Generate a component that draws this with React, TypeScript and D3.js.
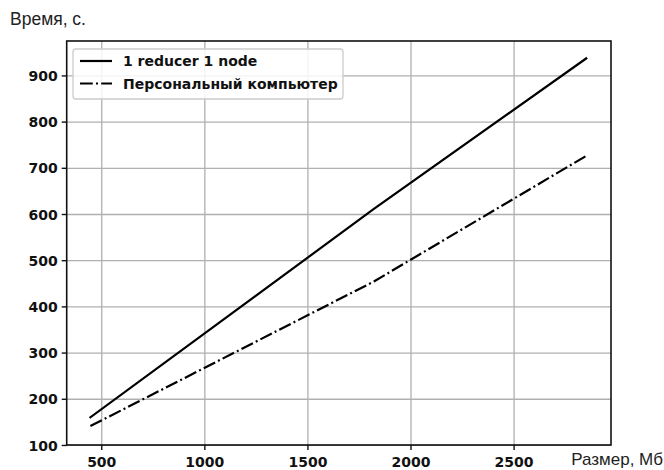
import React from "react";
import * as d3 from "d3";

const sizes = [445, 1820, 2850];
const clusterTimes = [161, 612, 938];
const pcTimes = [142, 455, 727];
const seriesNames = ["1 reducer 1 node", "Персональный компьютер"];
const xTicks = [500, 1000, 1500, 2000, 2500];
const yTicks = [100, 200, 300, 400, 500, 600, 700, 800, 900];

const W = 664;
const H = 470;
const left = 66.7, right = 611, top = 41, bottom = 445;

export default function App() {
  const x = d3.scaleLinear().domain([330, 2970]).range([left, right]);
  const y = d3.scaleLinear().domain([101, 975.6]).range([bottom, top]);
  const line = d3
    .line<[number, number]>()
    .x((d) => x(d[0]))
    .y((d) => y(d[1]));
  const d1 = line(sizes.map((s, i) => [s, clusterTimes[i]]) as [number, number][]) || "";
  const d2 = line(sizes.map((s, i) => [s, pcTimes[i]]) as [number, number][]) || "";
  const tickFont = "DejaVu Sans";
  const dash = "12.8,3.2,2,3.2";
  return (
    <div style={{ position: "absolute", left: 0, top: 0 }}>
      <svg width={W} height={H} style={{ display: "block", background: "#fff" }}>
        <rect x={0} y={0} width={W} height={H} fill="#fff" />
        {/* grid */}
        {xTicks.map((t) => (
          <line key={"gx" + t} x1={x(t)} x2={x(t)} y1={top} y2={bottom} stroke="#b0b0b0" strokeWidth={1.3} />
        ))}
        {yTicks.map((t) => (
          <line key={"gy" + t} x1={left} x2={right} y1={y(t)} y2={y(t)} stroke="#b0b0b0" strokeWidth={1.3} />
        ))}
        {/* lines */}
        <path d={d1} fill="none" stroke="#000" strokeWidth={2.2} strokeLinecap="square" />
        <path d={d2} fill="none" stroke="#000" strokeWidth={2.2} strokeDasharray={dash} />
        {/* frame */}
        <rect x={left} y={top} width={right - left} height={bottom - top} fill="none" stroke="#111" strokeWidth={1.6} />
        {/* ticks */}
        {xTicks.map((t) => (
          <g key={"tx" + t}>
            <line x1={x(t)} x2={x(t)} y1={bottom} y2={bottom + 5} stroke="#111" strokeWidth={1.4} />
            <text x={x(t)} y={467} textAnchor="middle" fontFamily={tickFont} fontWeight="bold" fontSize={14} fill="#111">
              {t}
            </text>
          </g>
        ))}
        {yTicks.map((t) => (
          <g key={"ty" + t}>
            <line x1={left - 5} x2={left} y1={y(t)} y2={y(t)} stroke="#111" strokeWidth={1.4} />
            <text x={left - 9} y={y(t)} dy="0.36em" textAnchor="end" fontFamily={tickFont} fontWeight="bold" fontSize={14} fill="#111">
              {t}
            </text>
          </g>
        ))}
        {/* axis labels */}
        <text x={10} y={25} fontFamily="Liberation Sans" fontSize={17.5} fill="#222">
          Время, с.
        </text>
        <text x={663} y={465} textAnchor="end" fontFamily="Liberation Sans" fontSize={17} fill="#222">
          Размер, Мб
        </text>
        {/* legend */}
        <rect x={73} y={49} width={270} height={50} rx={3} fill="#fff" fillOpacity={0.85} stroke="#cccccc" strokeWidth={1.3} />
        <line x1={80} x2={112} y1={61} y2={61} stroke="#000" strokeWidth={2.2} />
        <line x1={80} x2={112} y1={83.5} y2={83.5} stroke="#000" strokeWidth={2.2} strokeDasharray={dash} />
        <text x={123} y={61} dy="0.36em" fontFamily={tickFont} fontWeight="bold" fontSize={14} fill="#111">
          {seriesNames[0]}
        </text>
        <text x={123} y={83.5} dy="0.36em" fontFamily={tickFont} fontWeight="bold" fontSize={14} fill="#111">
          {seriesNames[1]}
        </text>
      </svg>
    </div>
  );
}
